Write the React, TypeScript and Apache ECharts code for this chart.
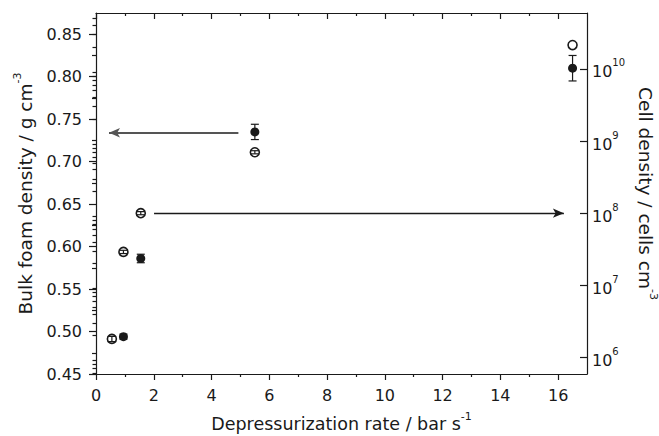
import { useEffect, useRef } from "react";
import * as echarts from "echarts";

// Bulk foam density (left axis, filled circles)
const bulkRates = [0.95, 1.55, 5.5, 16.5];
const bulkDensity = [0.494, 0.586, 0.735, 0.81];
const bulkError = [0.003, 0.005, 0.009, 0.015];

// Cell density (right log axis, open circles)
const cellRates = [0.55, 0.95, 1.55, 5.5, 16.5];
const cellDensity = [1.8e6, 2.9e7, 1.0e8, 7.0e8, 2.15e10];
const cellError = [1.5e5, 1.5e6, 5e6, 3.5e7, 0];

// Axes
const xMin = 0;
const xMax = 17;
const xTicks = [0, 2, 4, 6, 8, 10, 12, 14, 16];
const xMinorTicks = [1, 3, 5, 7, 9, 11, 13, 15];
const yMin = 0.45;
const yMax = 0.875;
const yTicks = [0.45, 0.5, 0.55, 0.6, 0.65, 0.7, 0.75, 0.8, 0.85];
const yMinorTicks = [0.475, 0.525, 0.575, 0.625, 0.675, 0.725, 0.775, 0.825];
const cellLogMin = 5.768;
const cellLogMax = 10.777;
const cellExponents = [6, 7, 8, 9, 10];
const cellMinorDecades = [5, 6, 7, 8, 9, 10];
const minorMultipliers = [2, 3, 4, 5, 6, 7, 8, 9];

// Annotation arrows
const leftArrow = { from: [4.93, 0.734], to: [0.45, 0.734] };
const rightArrow = { from: [2.01, 1e8], to: [16.2, 1e8] };

const FONT = "DejaVu Sans";
const INK = "#1a1a1a";

const cellMinorTicks: number[] = [];
cellMinorDecades.forEach((d) =>
  minorMultipliers.forEach((k) => {
    const v = d + Math.log10(k);
    if (v > cellLogMin && v < cellLogMax) cellMinorTicks.push(v);
  })
);

function errorBarItem(params: any, api: any) {
  const x = api.value(0);
  const lo = api.value(1);
  const hi = api.value(2);
  if (hi === lo) return { type: "group", children: [] };
  const top = api.coord([x, hi]);
  const bot = api.coord([x, lo]);
  const hw = 4;
  const style = { stroke: INK, lineWidth: 1.2 };
  return {
    type: "group",
    children: [
      { type: "line", shape: { x1: top[0], y1: top[1], x2: bot[0], y2: bot[1] }, style },
      { type: "line", shape: { x1: top[0] - hw, y1: top[1], x2: top[0] + hw, y2: top[1] }, style },
      { type: "line", shape: { x1: bot[0] - hw, y1: bot[1], x2: bot[0] + hw, y2: bot[1] }, style },
    ],
  };
}

function nameStyle(size: number) {
  return {
    fontFamily: FONT,
    fontSize: size,
    color: INK,
    rich: {
      t: { fontFamily: FONT, fontSize: size, color: INK, padding: [4, 0, 0, 0] },
      sup: { fontFamily: FONT, fontSize: 11, color: INK, verticalAlign: "top" },
    },
  };
}

export default function App() {
  const ref = useRef<HTMLDivElement>(null);
  useEffect(() => {
    if (!ref.current) return;
    const chart = echarts.init(ref.current, null, { renderer: "svg" });
    const axisLine = { show: true, onZero: false, lineStyle: { color: INK, width: 1.2 } };
    const tickStyle = { color: INK, width: 1.2 };
    const labelBase = { fontFamily: FONT, fontSize: 16, color: INK };
    const hidden = {
      axisLine: { show: false },
      axisLabel: { show: false },
      splitLine: { show: false },
    };

    const bulkPoints = bulkRates.map((x, i) => [x, bulkDensity[i]]);
    const bulkBars = bulkRates.map((x, i) => [x, bulkDensity[i] - bulkError[i], bulkDensity[i] + bulkError[i]]);
    const cellPoints = cellRates.map((x, i) => [x, Math.log10(cellDensity[i])]);
    const cellBars = cellRates.map((x, i) => [
      x,
      Math.log10(cellDensity[i] - cellError[i]),
      Math.log10(cellDensity[i] + cellError[i]),
    ]);

    chart.setOption({
      animation: false,
      grid: { left: 96, right: 72, top: 13, bottom: 62, containLabel: false, outerBoundsMode: "none" },
      xAxis: [
        {
          type: "value", position: "bottom", min: xMin, max: xMax,
          axisLine,
          axisTick: { show: true, inside: false, length: 6, lineStyle: tickStyle, customValues: xTicks },
          axisLabel: { ...labelBase, margin: 13, customValues: xTicks, formatter: (v: number) => String(v) },
          splitLine: { show: false },
          name: "{t|Depressurization rate / bar s}{sup|-1}",
          nameLocation: "middle", nameGap: 37, nameTextStyle: nameStyle(17.5),
        },
        {
          type: "value", position: "bottom", min: xMin, max: xMax, ...hidden,
          axisTick: { show: true, inside: false, length: 3, lineStyle: tickStyle, customValues: xMinorTicks },
        },
        {
          type: "value", position: "top", min: xMin, max: xMax,
          axisLine, axisLabel: { show: false }, splitLine: { show: false },
          axisTick: { show: true, inside: true, length: 6, lineStyle: tickStyle, customValues: xTicks },
        },
        {
          type: "value", position: "top", min: xMin, max: xMax, ...hidden,
          axisTick: { show: true, inside: true, length: 3, lineStyle: tickStyle, customValues: xMinorTicks },
        },
      ],
      yAxis: [
        {
          type: "value", position: "left", min: yMin, max: yMax,
          axisLine,
          axisTick: { show: true, inside: false, length: 7, lineStyle: tickStyle, customValues: yTicks },
          axisLabel: { ...labelBase, margin: 14, customValues: yTicks, formatter: (v: number) => v.toFixed(2) },
          splitLine: { show: false },
          name: "{t|Bulk foam density / g cm}{sup|-3}",
          nameLocation: "middle", nameGap: 51, nameTextStyle: nameStyle(18.5),
        },
        {
          type: "value", position: "left", min: yMin, max: yMax, ...hidden,
          axisTick: { show: true, inside: false, length: 4, lineStyle: tickStyle, customValues: yMinorTicks },
        },
        {
          type: "value", position: "right", min: cellLogMin, max: cellLogMax,
          axisLine,
          axisTick: { show: true, inside: true, length: 7, lineStyle: tickStyle, customValues: cellExponents },
          axisLabel: {
            ...labelBase, margin: 5, customValues: cellExponents,
            formatter: (v: number) => `{b|10}{sup|${Math.round(v)}}`,
            rich: {
              b: { fontFamily: FONT, fontSize: 16, color: INK, padding: [6, 0, 0, 0] },
              sup: { fontFamily: FONT, fontSize: 10, color: INK, verticalAlign: "top" },
            },
          },
          splitLine: { show: false },
          name: "{t|Cell density / cells cm}{sup|-3}",
          nameLocation: "middle", nameGap: 47, nameRotate: -90, nameTextStyle: nameStyle(18.5),
        },
        {
          type: "value", position: "right", min: cellLogMin, max: cellLogMax, ...hidden,
          axisTick: { show: true, inside: true, length: 3.5, lineStyle: tickStyle, customValues: cellMinorTicks },
        },
      ],
      series: [
        {
          type: "custom", xAxisIndex: 0, yAxisIndex: 0, renderItem: errorBarItem,
          data: bulkBars, encode: { x: 0, y: [1, 2] }, silent: true, z: 3,
        },
        {
          type: "scatter", xAxisIndex: 0, yAxisIndex: 0, data: bulkPoints,
          symbol: "circle", symbolSize: 9, itemStyle: { color: INK, opacity: 1 },
          silent: true, z: 4,
          markLine: {
            silent: true, symbol: ["none", "arrow"], symbolSize: [7, 11],
            label: { show: false },
            lineStyle: { color: "#555", width: 2, type: "solid" },
            emphasis: { disabled: true },
            data: [[{ coord: leftArrow.from }, { coord: leftArrow.to }]],
          },
        },
        {
          type: "scatter", xAxisIndex: 0, yAxisIndex: 2, data: cellPoints,
          symbol: "circle", symbolSize: 9,
          itemStyle: { color: "#ffffff", borderColor: INK, borderWidth: 1.6, opacity: 1 },
          silent: true, z: 4,
          markLine: {
            silent: true, symbol: ["none", "arrow"], symbolSize: [7, 11],
            label: { show: false },
            lineStyle: { color: INK, width: 1.3, type: "solid" },
            emphasis: { disabled: true },
            data: [[
              { coord: [rightArrow.from[0], Math.log10(rightArrow.from[1])] },
              { coord: [rightArrow.to[0], Math.log10(rightArrow.to[1])] },
            ]],
          },
        },
        {
          type: "custom", xAxisIndex: 0, yAxisIndex: 2, renderItem: errorBarItem,
          data: cellBars, encode: { x: 0, y: [1, 2] }, silent: true, z: 5,
        },
      ],
    });
    return () => chart.dispose();
  }, []);
  return (
    <div
      ref={ref}
      style={{ position: "absolute", left: 0, top: 0, width: 659, height: 436, background: "#fff" }}
    />
  );
}
